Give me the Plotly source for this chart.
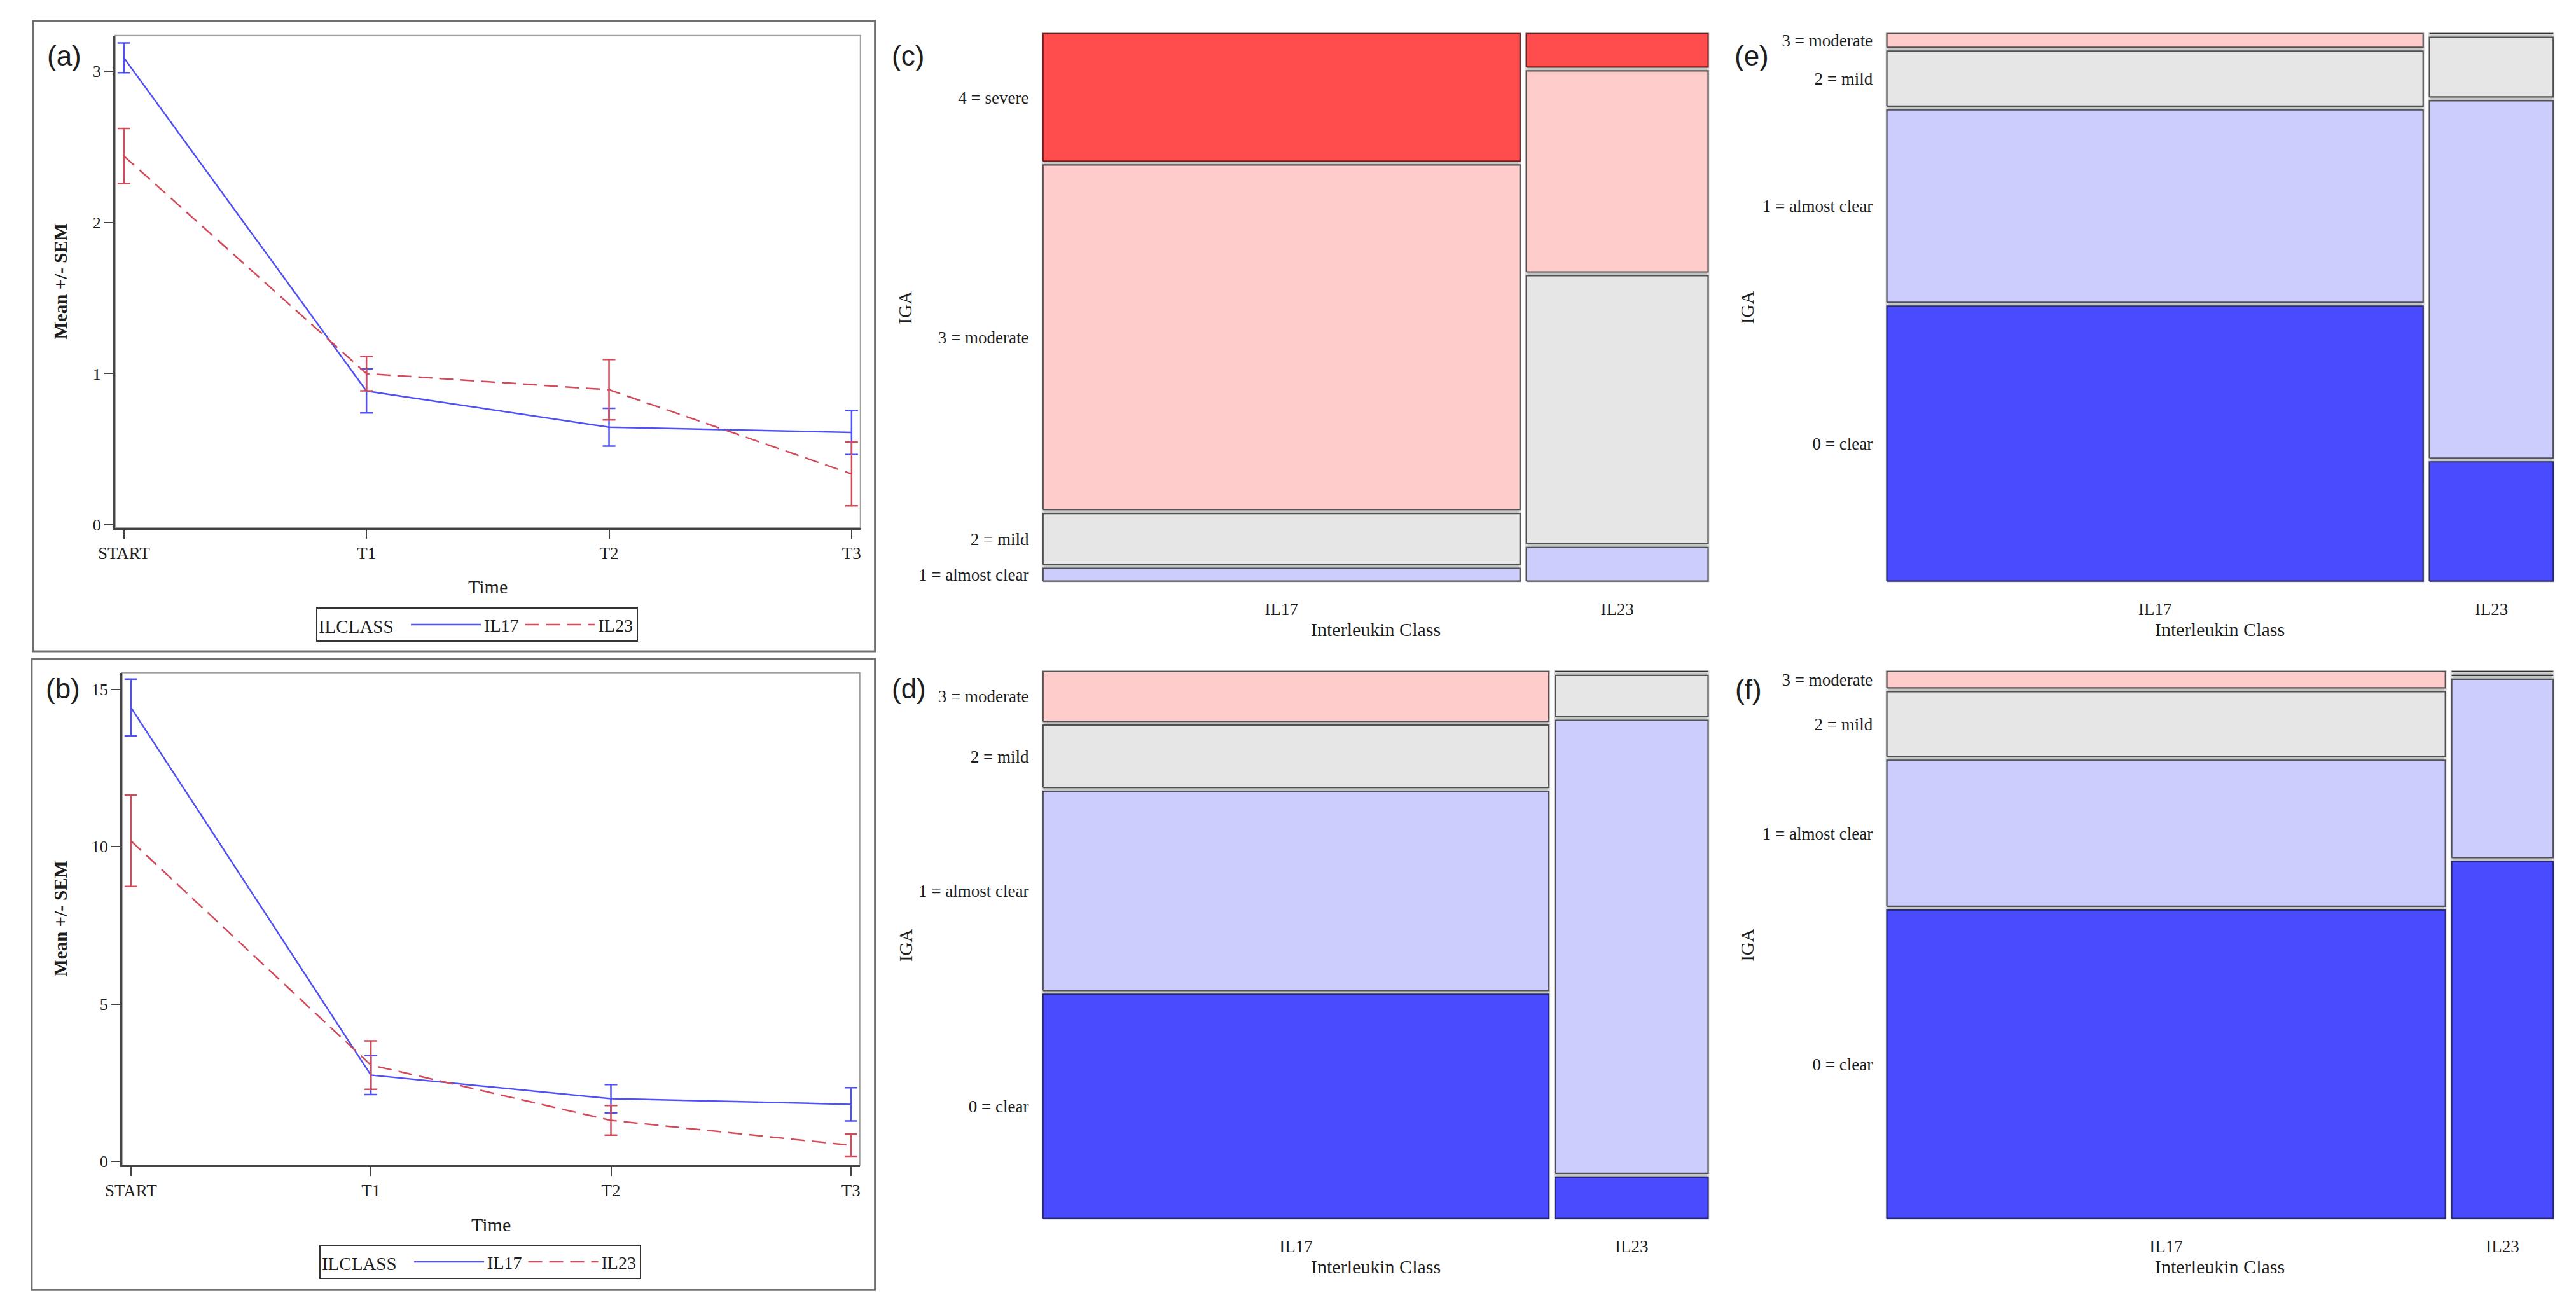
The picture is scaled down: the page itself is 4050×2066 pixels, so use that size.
import plotly.graph_objects as go

# ---------------- data ----------------
time_labels = ["START", "T1", "T2", "T3"]
groups = ["IL17", "IL23"]

# panel (a): mean +/- SEM
a_il17_mean = [3.09, 0.885, 0.645, 0.61]
a_il17_sem = [0.098, 0.145, 0.125, 0.146]
a_il23_mean = [2.44, 1.00, 0.893, 0.336]
a_il23_sem = [0.182, 0.114, 0.200, 0.211]
a_yticks = [0, 1, 2, 3]

# panel (b): mean +/- SEM
b_il17_mean = [14.43, 2.74, 1.99, 1.81]
b_il17_sem = [0.90, 0.62, 0.45, 0.53]
b_il23_mean = [10.19, 3.06, 1.30, 0.51]
b_il23_sem = [1.45, 0.77, 0.47, 0.35]
b_yticks = [0, 5, 10, 15]

# mosaic panels: counts per IGA level (bottom -> top)
c_levels = ["1 = almost clear", "2 = mild", "3 = moderate", "4 = severe"]
c_il17 = [2, 8, 54, 20]
c_il23 = [2, 16, 12, 2]

def_levels = ["0 = clear", "1 = almost clear", "2 = mild", "3 = moderate"]
d_il17 = [18, 16, 5, 4]
d_il23 = [1, 11, 1, 0]
e_il17 = [40, 28, 8, 2]
e_il23 = [4, 12, 2, 0]
f_il17 = [19, 9, 4, 1]
f_il23 = [4, 2, 0, 0]

# ---------------- styling ----------------
W, H = 4050, 2066
def fx(p):
    return p / W
def fy(p):
    return 1 - p / H

SERIF = "Liberation Serif, Times New Roman, serif"
SANS = "Liberation Sans, Arial, sans-serif"
BLUE = "#5050f4"
RED = "#d24b5a"
TXT = "#1e1e1e"
LEVEL_FILL = {
    "0 = clear": "#4a4aff",
    "1 = almost clear": "#ccccfd",
    "2 = mild": "#e6e6e6",
    "3 = moderate": "#ffcccc",
    "4 = severe": "#ff4d4d",
}
LEVEL_LINE = {
    "0 = clear": "#2a2a70",
    "1 = almost clear": "#505058",
    "2 = mild": "#505050",
    "3 = moderate": "#585050",
    "4 = severe": "#702020",
}

fig = go.Figure()
layout = dict(
    width=W, height=H, margin=dict(l=0, r=0, t=0, b=0),
    paper_bgcolor="white", plot_bgcolor="white", showlegend=True,
)
shapes = []
annotations = []

def note(text, x, y, size, family=SERIF, angle=0):
    annotations.append(dict(text=text, x=fx(x), y=fy(y), xref="paper", yref="paper",
                            xanchor="center", yanchor="middle", showarrow=False,
                            textangle=angle, font=dict(family=family, size=size, color=TXT)))

# ---------------- line panels ----------------
line_panels = [
    dict(n="", leg="legend", box=(155, 1335, 56, 834), yr=(-0.021, 3.238), yt=a_yticks,
         m17=a_il17_mean, s17=a_il17_sem, m23=a_il23_mean, s23=a_il23_sem,
         outer=(25, 1358, 33, 1029), legpos=(728, 987), ytitle=445, xtitle=927, tag=(75, 88), lab="(a)"),
    dict(n="2", leg="legend2", box=(166, 1334, 1063, 1841), yr=(-0.125, 15.53), yt=b_yticks,
         m17=b_il17_mean, s17=b_il17_sem, m23=b_il23_mean, s23=b_il23_sem,
         outer=(23, 1358, 1041, 2038), legpos=(733, 1994), ytitle=1452, xtitle=1935, tag=(72, 1088), lab="(b)"),
]

for p in line_panels:
    x0, x1, y0, y1 = p["box"]
    step = (x1 - x0 - 28) / 3.0
    off = 14 / step
    xa, ya = "x" + p["n"], "y" + p["n"]
    fig.add_trace(go.Scatter(
        x=time_labels, y=p["m17"], mode="lines", name=groups[0],
        line=dict(color=BLUE, width=2.5),
        error_y=dict(type="data", array=p["s17"], color=BLUE, thickness=2.5, width=10),
        xaxis=xa, yaxis=ya, legend=p["leg"], hoverinfo="skip"))
    fig.add_trace(go.Scatter(
        x=time_labels, y=p["m23"], mode="lines", name=groups[1],
        line=dict(color=RED, width=2.5, dash="22px,11px"),
        error_y=dict(type="data", array=p["s23"], color=RED, thickness=2.5, width=10),
        xaxis=xa, yaxis=ya, legend=p["leg"], hoverinfo="skip"))
    layout["xaxis" + p["n"]] = dict(
        domain=[fx(x0), fx(x1)], anchor=ya, type="category",
        categoryorder="array", categoryarray=time_labels,
        range=[-off, 3 + off], showgrid=False, zeroline=False,
        showline=True, linecolor="#444", linewidth=3,
        ticks="outside", ticklen=14, tickwidth=2, tickcolor="#444",
        tickfont=dict(family=SERIF, size=27, color=TXT))
    layout["yaxis" + p["n"]] = dict(
        domain=[fy(y1), fy(y0)], anchor=xa, range=list(p["yr"]),
        tickvals=p["yt"], showgrid=False, zeroline=False,
        showline=True, linecolor="#444", linewidth=3,
        ticks="outside", ticklen=14, tickwidth=2, tickcolor="#444",
        tickfont=dict(family=SERIF, size=26, color=TXT))
    # plot frame (top/right light)
    shapes.append(dict(type="rect", xref=xa + " domain", yref=ya + " domain",
                       x0=0, x1=1, y0=0, y1=1, line=dict(color="#a0a0a0", width=2), layer="below"))
    # outer panel box
    ox0, ox1, oy0, oy1 = p["outer"]
    shapes.append(dict(type="rect", xref="paper", yref="paper",
                       x0=fx(ox0), x1=fx(ox1), y0=fy(oy1), y1=fy(oy0),
                       line=dict(color="#707070", width=3), layer="below"))
    note("<b>Mean +/- SEM</b>", 68, p["ytitle"], 29, angle=-90)
    note("Time", (x0 + x1) / 2, p["xtitle"], 30)
    note(p["lab"], p["tag"][0], p["tag"][1], 44, family=SANS)
    lx, ly = p["legpos"]
    layout[p["leg"]] = dict(
        x=fx(lx), y=fy(ly), xanchor="center", yanchor="middle", orientation="h",
        bgcolor="white", bordercolor="#333", borderwidth=2,
        title=dict(text="ILCLASS  ", side="left", font=dict(family=SERIF, size=29, color=TXT)),
        font=dict(family=SERIF, size=28, color=TXT), itemwidth=110)

# ---------------- mosaic panels ----------------
mosaic_panels = [
    dict(n="3", box=(1624, 2677, 53, 918), levels=c_levels, cols=[c_il17, c_il23], lab="(c)",
         tag=(1410, 88), iga_x=1406),
    dict(n="4", box=(1624, 2677, 1061, 1925), levels=def_levels, cols=[d_il17, d_il23], lab="(d)",
         tag=(1412, 1088), iga_x=1406),
    dict(n="5", box=(2960, 4015, 53, 918), levels=def_levels, cols=[e_il17, e_il23], lab="(e)",
         tag=(2746, 88), iga_x=2739),
    dict(n="6", box=(2960, 4015, 1061, 1925), levels=def_levels, cols=[f_il17, f_il23], lab="(f)",
         tag=(2741, 1089), iga_x=2739),
]

PAD = 6
for p in mosaic_panels:
    x0, x1, y0, y1 = p["box"]
    wpx, hpx = x1 - x0, y1 - y0
    gx, gy = 10 / wpx, 6 / hpx
    xa, ya = "x" + p["n"], "y" + p["n"]
    totals = [sum(c) for c in p["cols"]]
    grand = sum(totals)
    nlev = len(p["levels"])
    usable_y = 1 - (nlev - 1) * gy
    xstart = 0.0
    xcenters = []
    ycenters = None
    for j, counts in enumerate(p["cols"]):
        cw = (1 - gx * (len(p["cols"]) - 1)) * totals[j] / grand
        cx0, cx1 = xstart, xstart + cw
        xcenters.append((cx0 + cx1) / 2)
        # column background (gaps appear light grey)
        fig.add_trace(go.Scatter(
            x=[cx0, cx1, cx1, cx0, cx0], y=[0, 0, 1, 1, 0], mode="lines", fill="toself",
            fillcolor="#c4c6c6", line=dict(color="#dadada", width=4),
            xaxis=xa, yaxis=ya, showlegend=False, hoverinfo="skip"))
        ybase = 0.0
        cents = []
        for i, cnt in enumerate(counts):
            h = usable_y * cnt / totals[j]
            ty0, ty1 = ybase, ybase + h
            cents.append((ty0 + ty1) / 2)
            lev = p["levels"][i]
            fig.add_trace(go.Scatter(
                x=[cx0, cx1, cx1, cx0, cx0], y=[ty0, ty0, ty1, ty1, ty0], mode="lines",
                fill="toself", fillcolor=LEVEL_FILL[lev],
                line=dict(color=LEVEL_LINE[lev] if cnt > 0 else "#303030", width=2.2),
                xaxis=xa, yaxis=ya, showlegend=False, hoverinfo="skip"))
            ybase = ty1 + gy
        if j == 0:
            ycenters = cents
        xstart = cx1 + gx
    layout["xaxis" + p["n"]] = dict(
        domain=[fx(x0 - PAD), fx(x1 + PAD)], anchor=ya,
        range=[-PAD / wpx, 1 + PAD / wpx], showgrid=False, zeroline=False, showline=False,
        tickvals=xcenters, ticktext=groups, ticks="outside", ticklen=PAD + 8,
        tickcolor="rgba(0,0,0,0)", tickfont=dict(family=SERIF, size=27, color=TXT))
    layout["yaxis" + p["n"]] = dict(
        domain=[fy(y1 + PAD), fy(y0 - PAD)], anchor=xa,
        range=[-PAD / hpx, 1 + PAD / hpx], showgrid=False, zeroline=False, showline=False,
        tickvals=ycenters, ticktext=p["levels"], ticks="outside", ticklen=PAD + 4,
        tickcolor="rgba(0,0,0,0)", tickfont=dict(family=SERIF, size=27, color=TXT))
    note("IGA", p["iga_x"], (y0 + y1) / 2, 29, angle=-90)
    note("Interleukin Class", (x0 + x1) / 2, y1 + 76, 30)
    note(p["lab"], p["tag"][0], p["tag"][1], 44, family=SANS)

layout["shapes"] = shapes
layout["annotations"] = annotations
fig.update_layout(**layout)
fig.write_html("out.html", config={"displayModeBar": False},
               post_script="document.body.style.margin='0px';document.body.style.overflow='hidden';")
